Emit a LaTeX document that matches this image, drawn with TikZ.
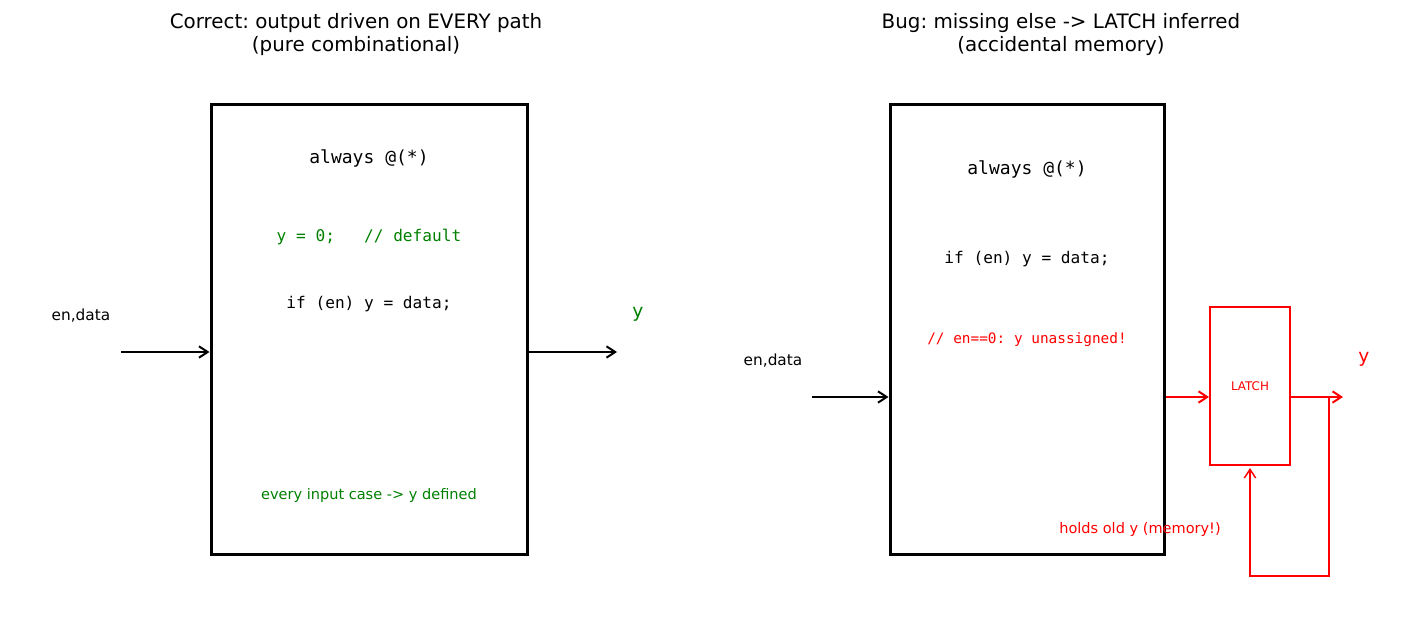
\documentclass[tikz,border=0pt]{standalone}
\usepackage{fontspec}
\setmainfont{DejaVu Sans}
\newfontfamily\codefont{DejaVu Sans Mono}
\usetikzlibrary{arrows.meta}
\definecolor{okgreen}{HTML}{008000}
\definecolor{bugred}{HTML}{FF0000}
\frenchspacing
\begin{document}
\begin{tikzpicture}
    [x=0.75pt, y=-0.75pt,
    >={Straight Barb[length=6.5pt,width=8.5pt]},
    block/.style={draw=black, line width=2.25pt, minimum width=#1, minimum height=336.75pt},
    wire/.style={->, line width=1.5pt},
    redwire/.style={wire, draw=bugred},
    title/.style={font=\fontsize{14.9}{17}\selectfont, align=center},
    code/.style={font=\codefont\fontsize{#1}{14}\selectfont},
    label/.style={font=\fontsize{11.5}{14}\selectfont},
    note/.style={font=\fontsize{10.9}{13}\selectfont},
    ]
    \useasboundingbox (0,0) rectangle (1417,635);
    % left: correct combinational block
    \node[title] (ltitle) at (356,34.5) {Correct: output driven on EVERY path\\(pure combinational)};
    \node[block=237pt] (lbox) at (369,329.5) {};
    \node[code=13.5] (lalways) at (369,158.5) {always @(*)};
    \node[code=12.1, text=okgreen] (ldefault) at (369,237.5) {y = 0;\ \ \ // default};
    \node[code=12.1] (lif) at (369,304.5) {if (en) y = data;};
    \node[note, text=okgreen] (lnote) at (369,495.5) {every input case -> y defined};
    \node[label] (lin) at (81,315.5) {en,data};
    \node[font=\fontsize{14}{16}\selectfont, text=okgreen] (lout) at (638,314.5) {y};
    \coordinate (lsrc) at (121,352);
    \coordinate (ldst) at (617,352);
    \draw[wire] (lsrc) -- (lsrc -| lbox.west);
    \draw[wire] (lbox.east |- ldst) -- (ldst);
    % right: missing else, latch inferred
    \node[title] (rtitle) at (1061,34.5) {Bug: missing else -> LATCH inferred\\(accidental memory)};
    \node[block=205.5pt] (rbox) at (1027,329.5) {};
    \node[code=13.5] (ralways) at (1027,169.5) {always @(*)};
    \node[code=12.1] (rif) at (1027,259.5) {if (en) y = data;};
    \node[code=10.8, text=bugred] (rwarn) at (1027,339.5) {// en==0: y unassigned!};
    \node[label] (rin) at (773,360.5) {en,data};
    \node[draw=bugred, line width=1.5pt, minimum width=60pt, minimum height=118.5pt,
      font=\fontsize{8.9}{10}\selectfont, text=bugred] (latch) at (1250,386) {LATCH};
    \node[font=\fontsize{14}{16}\selectfont, text=bugred] (rout) at (1364,359.5) {y};
    \node[note, text=bugred] (rnote) at (1140,529.5) {holds old y (memory!)};
    \coordinate (rsrc) at (812,397);
    \coordinate (rdst) at (1343,397);
    \coordinate (fb) at (1329,397);
    \draw[wire] (rsrc) -- (rsrc -| rbox.west);
    \draw[redwire] (rbox.east |- rsrc) -- (rsrc -| latch.west);
    \draw[redwire] (latch.east |- rdst) -- (rdst);
    \draw[redwire, line width=1.1pt] (fb) -- ++(0,179) -| ([yshift=-1.5pt]latch.south);
  \end{tikzpicture}
\end{document}
